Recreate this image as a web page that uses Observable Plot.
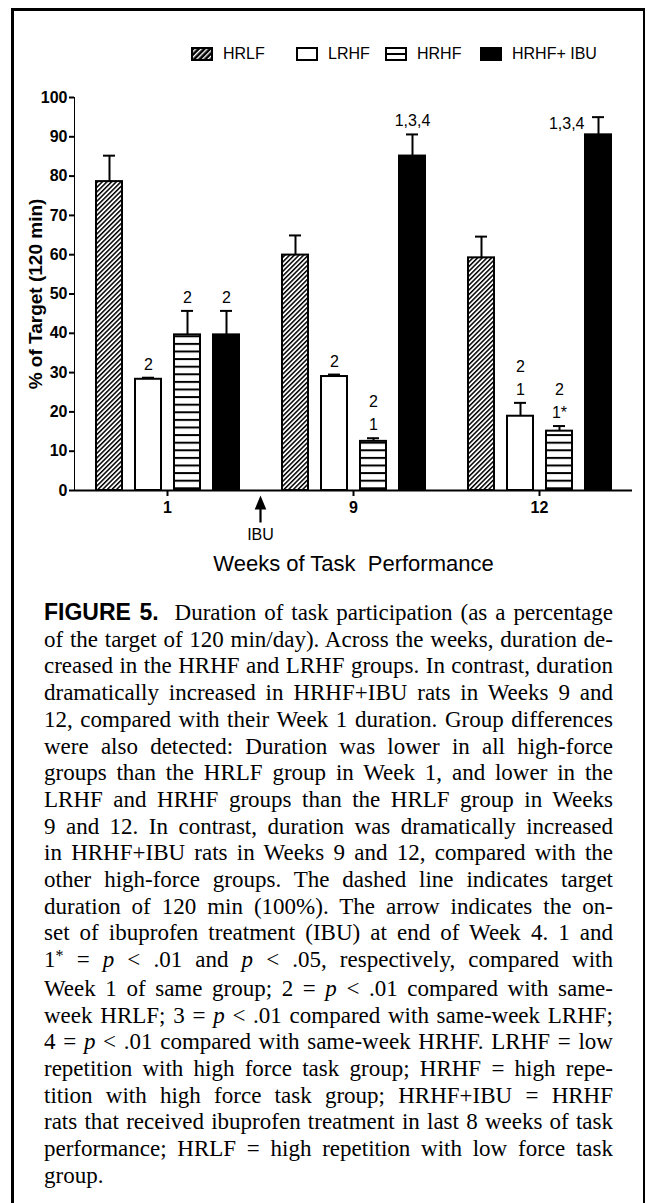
<!DOCTYPE html>
<html><head><meta charset="utf-8">
<script src="https://cdn.jsdelivr.net/npm/d3@7"></script>
<script src="https://cdn.jsdelivr.net/npm/@observablehq/plot@0.6"></script>
<style>
html,body{margin:0;padding:0;background:#fff;}
body{width:647px;height:1203px;position:relative;overflow:hidden;}
#frame{position:absolute;left:11px;top:8px;width:634px;height:1400px;box-sizing:border-box;border-left:3px solid #000;border-top:3px solid #000;border-right:2px solid #000;}
#legend{position:absolute;left:0;top:0;width:647px;height:70px;font-family:"Liberation Sans",Arial,sans-serif;font-size:16px;color:#000;}
.item{position:absolute;top:47px;height:14px;display:flex;align-items:center;white-space:nowrap;}
.item svg{display:block;margin-right:10px;flex:none;}
#chart{position:absolute;left:0;top:72px;}
#chart svg{overflow:visible;}
#chart svg g[aria-label="y-axis tick label"] text,
#chart svg g[aria-label="fx-axis tick label"] text{font-size:16px;font-weight:bold;}
#chart svg g[aria-label="y-axis label"] text{font-size:19px;font-weight:bold;}
#chart svg g[aria-label="fx-axis label"] text{font-size:22px;font-weight:normal;white-space:pre;}
#chart svg g[aria-label$="tick"]{stroke-width:2px;}
#caption{position:absolute;left:44px;top:599px;width:569px;font-family:"Liberation Serif","Times New Roman",serif;font-size:23px;line-height:26.7px;color:#000;}
.line{display:block;white-space:nowrap;}
.fig{font-family:"Liberation Sans",Arial,sans-serif;font-weight:bold;}
.star{position:relative;top:-0.4em;font-size:0.7em;}
</style></head><body>
<div id="frame"></div>
<div id="legend"></div>
<div id="chart"></div>
<div id="caption"></div>
<script>
// ---- data ----
const weeks = ["1", "9", "12"];
const groups = ["HRLF", "LRHF", "HRHF", "HRHF+IBU"];
const legendLabels = ["HRLF", "LRHF", "HRHF", "HRHF+ IBU"];
const hrlfMean = [78.6, 59.9, 59.2];
const hrlfSem  = [6.6, 5.0, 5.4];
const lrhfMean = [28.3, 29.0, 18.9];
const lrhfSem  = [0.4, 0.5, 3.4];
const hrhfMean = [39.6, 12.5, 15.1];
const hrhfSem  = [6.1, 0.8, 1.3];
const ibuMean  = [39.6, 85.1, 90.5];
const ibuSem   = [6.1, 5.5, 4.5];
const hrlfSig = ["", "", ""];
const lrhfSig = ["2", "2", "2\n1"];
const hrhfSig = ["2", "2\n1", "2\n1*"];
const ibuSig  = ["2", "1,3,4", "1,3,4"];
const yTicks = [0, 10, 20, 30, 40, 50, 60, 70, 80, 90, 100];
const onset = [{week: "1", label: "IBU"}];
const yLabel = "% of Target (120 min)";
const xLabel = "Weeks of Task  Performance";

const captionLines = [
  '<span class="fig">FIGURE 5.</span>&nbsp; Duration of task participation (as a percentage',
  'of the target of 120 min/day). Across the weeks, duration de-',
  'creased in the HRHF and LRHF groups. In contrast, duration',
  'dramatically increased in HRHF+IBU rats in Weeks 9 and',
  '12, compared with their Week 1 duration. Group differences',
  'were also detected: Duration was lower in all high-force',
  'groups than the HRLF group in Week 1, and lower in the',
  'LRHF and HRHF groups than the HRLF group in Weeks',
  '9 and 12. In contrast, duration was dramatically increased',
  'in HRHF+IBU rats in Weeks 9 and 12, compared with the',
  'other high-force groups. The dashed line indicates target',
  'duration of 120 min (100%). The arrow indicates the on-',
  'set of ibuprofen treatment (IBU) at end of Week 4. 1 and',
  '1<span class="star">*</span> = <i>p</i> &lt; .01 and <i>p</i> &lt; .05, respectively, compared with',
  'Week 1 of same group; 2 = <i>p</i> &lt; .01 compared with same-',
  'week HRLF; 3 = <i>p</i> &lt; .01 compared with same-week LRHF;',
  '4 = <i>p</i> &lt; .01 compared with same-week HRHF. LRHF = low',
  'repetition with high force task group; HRHF = high repe-',
  'tition with high force task group; HRHF+IBU = HRHF',
  'rats that received ibuprofen treatment in last 8 weeks of task',
  'performance; HRLF = high repetition with low force task',
  'group.'
];

// ---- table ----
const means = [hrlfMean, lrhfMean, hrhfMean, ibuMean];
const sems = [hrlfSem, lrhfSem, hrhfSem, ibuSem];
const sigs = [hrlfSig, lrhfSig, hrhfSig, ibuSig];
const rows = [];
weeks.forEach((w, i) => groups.forEach((g, j) => {
  rows.push({week: w, group: g, value: means[j][i], top: means[j][i] + sems[j][i], sig: sigs[j][i]});
}));
const sideLabel = d => d.week === "12" && d.group === "HRHF+IBU";

// ---- styles ----
const fills = ["url(#hatch)", "white", "url(#stripes)", "black"];
const arrowSymbol = {draw(ctx) {
  ctx.moveTo(0, 0); ctx.lineTo(5.8, 14); ctx.lineTo(1.1, 14); ctx.lineTo(1.1, 27);
  ctx.lineTo(-1.1, 27); ctx.lineTo(-1.1, 14); ctx.lineTo(-5.8, 14); ctx.closePath();
}};

const chart = Plot.plot({
  width: 647, height: 508,
  marginLeft: 73, marginRight: 15, marginTop: 25, marginBottom: 90,
  style: {fontFamily: '"Liberation Sans", Arial, sans-serif', fontSize: "16px", fontWeight: "bold", color: "black", background: "transparent"},
  fx: {domain: weeks, padding: 0, label: xLabel, labelAnchor: "center", tickSize: 6, tickPadding: 5, labelOffset: 80},
  x: {domain: groups, paddingInner: 0.34, paddingOuter: 0.527, axis: null},
  y: {domain: [0, 100], ticks: yTicks, tickSize: 5, tickPadding: 2, line: true, label: yLabel, labelAnchor: "center", labelOffset: 46, labelArrow: "none"},
  color: {domain: groups, range: fills},
  marks: [
    Plot.barY(rows, {fx: "week", x: "group", y: "value", fill: "group", stroke: "black", strokeWidth: 2}),
    Plot.ruleX(rows, {fx: "week", x: "group", y1: "value", y2: "top", stroke: "black", strokeWidth: 2}),
    Plot.tickY(rows, {fx: "week", x: "group", y: "top", stroke: "black", strokeWidth: 2, insetLeft: 7, insetRight: 7}),
    Plot.ruleY([0], {stroke: "black", strokeWidth: 2}),
    Plot.text(rows.filter(d => !sideLabel(d)), {fx: "week", x: "group", y: "top", text: "sig", lineAnchor: "bottom", dy: -8, lineHeight: 1.45, fontSize: 16, fontWeight: "normal", fill: "black"}),
    Plot.text(rows.filter(sideLabel), {fx: "week", x: "group", y: "top", text: "sig", lineAnchor: "bottom", textAnchor: "end", dx: -14, dy: 12, fontSize: 16, fontWeight: "normal", fill: "black"}),
    Plot.dot(onset, {fx: "week", frameAnchor: "bottom-right", symbol: arrowSymbol, r: 5, fill: "black", stroke: "none", dy: 5}),
    Plot.text(onset, {fx: "week", frameAnchor: "bottom-right", textAnchor: "middle", text: "label", dy: 49, fontSize: 16, fontWeight: "normal", fill: "black"})
  ]
});

// patterns
const defs = d3.select(chart).insert("defs", ":first-child");
defs.html(
  '<pattern id="hatch" patternUnits="userSpaceOnUse" width="3.3" height="3.3" patternTransform="rotate(45)">' +
  '<rect width="3.3" height="3.3" fill="white"/><rect width="1.5" height="3.3" fill="black"/></pattern>' +
  '<pattern id="stripes" patternUnits="userSpaceOnUse" x="0" y="4.9" width="8" height="7.6">' +
  '<rect width="8" height="7.6" fill="white"/><rect width="8" height="2" fill="black"/></pattern>'
);
document.getElementById("chart").appendChild(chart);

// legend
const legendLeft = [191, 296, 385, 480];
const legend = document.getElementById("legend");
const swatchSvg = [
  '<svg width="22" height="14"><defs><pattern id="lhatch" patternUnits="userSpaceOnUse" width="4" height="4" patternTransform="rotate(45)"><rect width="4" height="4" fill="black"/><rect width="1.4" height="4" fill="white"/></pattern></defs><rect x="1" y="1" width="20" height="12" fill="url(#lhatch)" stroke="black" stroke-width="2"/></svg>',
  '<svg width="22" height="14"><rect x="1" y="1" width="20" height="12" fill="white" stroke="black" stroke-width="2"/></svg>',
  '<svg width="22" height="14"><rect x="1" y="1" width="20" height="12" fill="white" stroke="black" stroke-width="2"/><line x1="1" x2="21" y1="7" y2="7" stroke="black" stroke-width="2"/></svg>',
  '<svg width="22" height="14"><rect x="1" y="1" width="20" height="12" fill="black" stroke="black" stroke-width="2"/></svg>'
];
groups.forEach((g, i) => {
  const it = document.createElement("div");
  it.className = "item";
  it.style.left = legendLeft[i] + "px";
  it.innerHTML = swatchSvg[i] + "<span>" + legendLabels[i] + "</span>";
  legend.appendChild(it);
});

// caption
const cap = document.getElementById("caption");
captionLines.forEach((html, i) => {
  const div = document.createElement("div");
  div.className = "line";
  const span = document.createElement("span");
  span.innerHTML = html;
  div.appendChild(span);
  cap.appendChild(div);
  if (i < captionLines.length - 1) {
    const w = span.getBoundingClientRect().width;
    const n = (span.textContent.match(/[ \u00a0]/g) || []).length;
    if (n) span.style.wordSpacing = ((569 - w) / n) + "px";
  }
});
</script></body></html>
